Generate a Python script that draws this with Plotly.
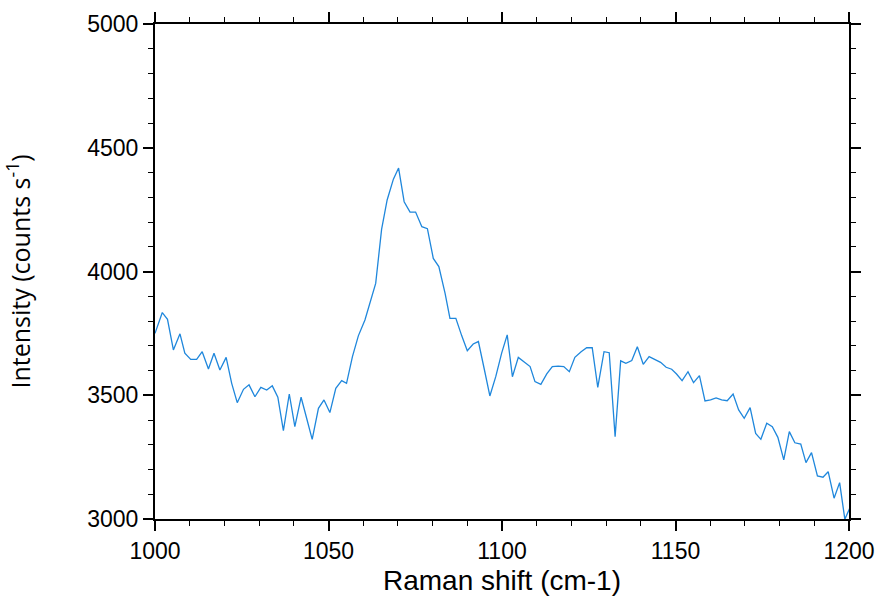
import plotly.graph_objects as go

raman_shift = [1000.0, 1002.1, 1003.6, 1005.3, 1007.2, 1008.6, 1010.3, 1012.0, 1013.6, 1015.4,
               1017.0, 1018.7, 1020.5, 1022.1, 1023.7, 1025.5, 1027.1, 1028.8, 1030.5, 1032.2,
               1033.8, 1035.4, 1037.0, 1038.7, 1040.3, 1042.1, 1043.7, 1045.3, 1047.1, 1048.7,
               1050.4, 1052.1, 1053.8, 1055.2, 1056.9, 1058.6, 1060.5, 1062.0, 1063.6, 1065.3,
               1066.9, 1068.7, 1070.2, 1071.8, 1073.5, 1075.1, 1076.9, 1078.5, 1080.2, 1081.8,
               1083.6, 1085.0, 1086.7, 1088.4, 1090.0, 1091.7, 1093.2, 1094.9, 1096.5, 1098.2,
               1099.9, 1101.5, 1103.0, 1104.7, 1106.3, 1108.1, 1109.5, 1111.2, 1112.9, 1114.5,
               1116.2, 1117.8, 1119.4, 1121.0, 1122.8, 1124.4, 1126.0, 1127.6, 1129.4, 1130.9,
               1132.6, 1134.2, 1135.7, 1137.4, 1139.0, 1140.7, 1142.4, 1143.9, 1145.7, 1147.3,
               1148.9, 1150.3, 1151.9, 1153.6, 1155.2, 1156.9, 1158.5, 1160.1, 1161.7, 1163.3,
               1164.9, 1166.6, 1168.2, 1169.8, 1171.5, 1173.1, 1174.6, 1176.3, 1177.9, 1179.5,
               1181.2, 1182.8, 1184.4, 1186.1, 1187.6, 1189.2, 1190.9, 1192.5, 1194.0, 1195.7,
               1197.3, 1198.8, 1200.5]

intensity = [3750, 3834, 3807, 3683, 3748, 3670, 3645, 3645, 3676, 3606,
             3670, 3602, 3653, 3548, 3470, 3524, 3542, 3494, 3532, 3521,
             3538, 3492, 3357, 3505, 3373, 3492, 3407, 3322, 3447, 3481,
             3430, 3528, 3559, 3548, 3656, 3740, 3804, 3872, 3952, 4170,
             4289, 4373, 4418, 4282, 4240, 4240, 4181, 4173, 4053, 4020,
             3912, 3811, 3811, 3740, 3680, 3707, 3717, 3605, 3497, 3575,
             3670, 3744, 3575, 3653, 3636, 3616, 3555, 3544, 3586, 3616,
             3618, 3616, 3595, 3653, 3676, 3692, 3692, 3532, 3676, 3672,
             3333, 3639, 3629, 3640, 3696, 3625, 3656, 3645, 3633, 3613,
             3605, 3586, 3559, 3595, 3551, 3579, 3477, 3481, 3489, 3481,
             3478, 3505, 3441, 3407, 3450, 3346, 3322, 3387, 3373, 3330,
             3239, 3353, 3308, 3303, 3228, 3268, 3174, 3169, 3191, 3084,
             3147, 2999, 3053]

x_ticks = [1000, 1050, 1100, 1150, 1200]
y_ticks = [3000, 3500, 4000, 4500, 5000]

fig = go.Figure()
fig.add_trace(go.Scatter(
    x=raman_shift, y=intensity, mode="lines",
    line=dict(color="#1f87dc", width=1.3),
    showlegend=False,
))

axis_common = dict(
    showline=True, linecolor="black", linewidth=2,
    mirror="allticks", ticks="outside", ticklen=10, tickwidth=1.5, tickcolor="black",
    showgrid=False, zeroline=False, automargin=False,
    tickfont=dict(family="Liberation Sans, Arial", size=23, color="black"),
)

fig.update_layout(
    width=878, height=596,
    paper_bgcolor="white", plot_bgcolor="white",
    margin=dict(l=155, r=29, t=24, b=77),
    xaxis=dict(
        range=[1000, 1200], tickvals=x_ticks,
        minor=dict(dtick=10, ticks="outside", ticklen=5, tickwidth=1.2, tickcolor="black"),
        title=dict(text="Raman shift (cm-1)", standoff=10,
                   font=dict(family="Liberation Sans, Arial", size=28, color="black")),
        **axis_common,
    ),
    yaxis=dict(
        range=[3000, 5000], tickvals=y_ticks,
        minor=dict(dtick=100, ticks="outside", ticklen=5, tickwidth=1.2, tickcolor="black"),
        title=dict(text="Intensity (counts s<sup>-1</sup>)", standoff=54,
                   font=dict(family="Open Sans", size=25, color="black")),
        **axis_common,
    ),
)

fig.write_html("out.html", config={"displayModeBar": False},
               post_script="document.body.style.margin='0';document.body.style.overflow='hidden';")
